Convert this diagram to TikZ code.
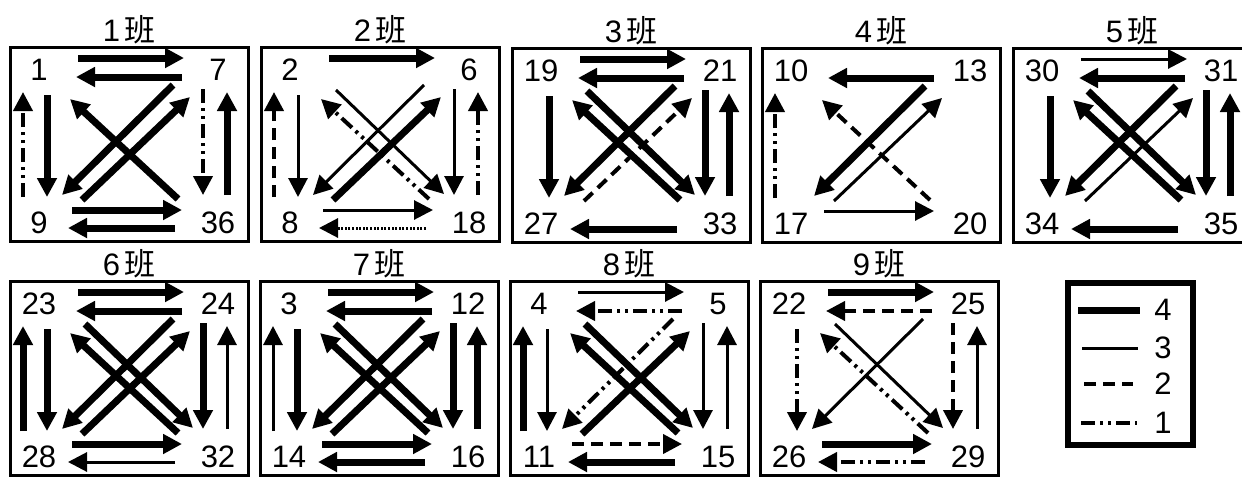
\documentclass[tikz,border=0pt]{standalone}
\usepackage{fontspec}
\setmainfont{Liberation Sans}
\newfontfamily\cjk{Noto Sans CJK SC}
\usetikzlibrary{arrows.meta}

\newcommand{\classpanel}[8]{%
  \begin{scope}[shift={(#2,#3)}]
    \draw[frame] (0,0) rectangle (238,194);
    \node[title] (#1-t) at (119,-17) {#4\hspace{2pt}{\cjk 班}};
    \node[num] (#1-a) at (29,23) {#5};
    \node[num] (#1-b) at (208,23) {#6};
    \node[num] (#1-c) at (29,176) {#7};
    \node[num] (#1-d) at (208,176) {#8};
  \end{scope}
  \coordinate (#1-ab-s) at ([shift={(39,-12)}]#1-a);
  \coordinate (#1-ab-e) at ([shift={(-34,-12)}]#1-b);
  \coordinate (#1-ba-s) at ([shift={(-36,7)}]#1-b);
  \coordinate (#1-ba-e) at ([shift={(37,7)}]#1-a);
  \coordinate (#1-cd-s) at ([shift={(33,-13)}]#1-c);
  \coordinate (#1-cd-e) at ([shift={(-36,-13)}]#1-d);
  \coordinate (#1-dc-s) at ([shift={(-43,5)}]#1-d);
  \coordinate (#1-dc-e) at ([shift={(29,5)}]#1-c);
  \coordinate (#1-ac-s) at ([shift={(8,25)}]#1-a);
  \coordinate (#1-ac-e) at ([shift={(8,-26)}]#1-c);
  \coordinate (#1-ca-s) at ([shift={(-16,-26)}]#1-c);
  \coordinate (#1-ca-e) at ([shift={(-16,22)}]#1-a);
  \coordinate (#1-bd-s) at ([shift={(-15,19)}]#1-b);
  \coordinate (#1-bd-e) at ([shift={(-15,-28)}]#1-d);
  \coordinate (#1-db-s) at ([shift={(9,-28)}]#1-d);
  \coordinate (#1-db-e) at ([shift={(9,22)}]#1-b);
  \coordinate (#1-ad-s) at ([shift={(46,20)}]#1-a);
  \coordinate (#1-ad-e) at ([shift={(-25,-29)}]#1-d);
  \coordinate (#1-da-s) at ([shift={(-40,-24)}]#1-d);
  \coordinate (#1-da-e) at ([shift={(31,29)}]#1-a);
  \coordinate (#1-bc-s) at ([shift={(-45,15)}]#1-b);
  \coordinate (#1-bc-e) at ([shift={(23,-28)}]#1-c);
  \coordinate (#1-cb-s) at ([shift={(43,-23)}]#1-c);
  \coordinate (#1-cb-e) at ([shift={(-28,27)}]#1-b);
}

\begin{document}
\begin{tikzpicture}[
  x=0.5pt, y=-0.5pt,
  frame/.style={line width=1.5pt},
  keyframe/.style={line width=3pt},
  title/.style={font=\fontsize{15.5}{18}\selectfont, inner sep=0pt},
  num/.style={font=\fontsize{15.5}{18}\selectfont, inner sep=0pt},
  arr/.style={-{Triangle[length=9.5pt, width=9.5pt]}},
  l4/.style={line width=3.5pt},
  l3/.style={line width=1.5pt},
  l2/.style={line width=2pt, dash pattern=on 6pt off 3.5pt},
  l1/.style={line width=2pt, dash pattern=on 7pt off 2.5pt on 1.5pt off 2.5pt on 1.5pt off 2.5pt},
  ldot/.style={line width=1.5pt, dash pattern=on 1pt off 0.8pt}]

\useasboundingbox (0,0) rectangle (1242,477);

\classpanel{p1}{10}{47}{1}{1}{7}{9}{36}
\foreach \e/\w in {ab/l4,ba/l4,cd/l4,dc/l4,ca/l1,ac/l4,bd/l1,db/l4,da/l4,bc/l4,cb/l4}
  \draw[arr,\w] (p1-\e-s) -- (p1-\e-e);

\classpanel{p2}{261}{47}{2}{2}{6}{8}{18}
\foreach \e/\w in {ab/l4,cd/l3,dc/ldot,ca/l2,ac/l3,bd/l3,db/l1,ad/l3,da/l1,bc/l3,cb/l4}
  \draw[arr,\w] (p2-\e-s) -- (p2-\e-e);

\classpanel{p3}{512}{48}{3}{19}{21}{27}{33}
\foreach \e/\w in {ab/l4,ba/l4,dc/l4,ac/l4,bd/l4,db/l4,ad/l4,da/l4,bc/l4,cb/l2}
  \draw[arr,\w] (p3-\e-s) -- (p3-\e-e);

\classpanel{p4}{762}{48}{4}{10}{13}{17}{20}
\foreach \e/\w in {ba/l4,ca/l1,cd/l3,bc/l4,cb/l3,da/l2}
  \draw[arr,\w] (p4-\e-s) -- (p4-\e-e);

\classpanel{p5}{1013}{48}{5}{30}{31}{34}{35}
\foreach \e/\w in {ab/l3,ba/l4,dc/l4,ac/l4,bd/l4,db/l4,ad/l4,da/l4,bc/l4,cb/l3}
  \draw[arr,\w] (p5-\e-s) -- (p5-\e-e);

\classpanel{p6}{10}{281}{6}{23}{24}{28}{32}
\foreach \e/\w in {ab/l4,ba/l4,cd/l4,dc/l3,ca/l4,ac/l4,bd/l4,db/l3,ad/l4,da/l4,bc/l4,cb/l4}
  \draw[arr,\w] (p6-\e-s) -- (p6-\e-e);

\classpanel{p7}{260}{281}{7}{3}{12}{14}{16}
\foreach \e/\w in {ab/l4,ba/l4,cd/l4,dc/l4,ca/l3,ac/l4,bd/l4,db/l4,ad/l4,da/l4,bc/l4,cb/l4}
  \draw[arr,\w] (p7-\e-s) -- (p7-\e-e);

\classpanel{p8}{510}{281}{8}{4}{5}{11}{15}
\foreach \e/\w in {ab/l3,ba/l1,cd/l2,dc/l4,ca/l4,ac/l3,bd/l3,db/l3,ad/l4,da/l4,bc/l1,cb/l4}
  \draw[arr,\w] (p8-\e-s) -- (p8-\e-e);

\classpanel{p9}{760}{281}{9}{22}{25}{26}{29}
\foreach \e/\w in {ab/l4,ba/l2,cd/l4,dc/l1,ac/l1,bd/l2,db/l3,ad/l3,da/l1,bc/l3}
  \draw[arr,\w] (p9-\e-s) -- (p9-\e-e);

\draw[keyframe] (1068,283) rectangle (1193,445);
\node[num] (k4) at (1163,310) {4};
\node[num] (k3) at (1163,348) {3};
\node[num] (k2) at (1163,384) {2};
\node[num] (k1) at (1163,423) {1};
\draw[l4] ([shift={(-85,0)}]k4.center) -- ([shift={(-23,0)}]k4.center);
\draw[l3] ([shift={(-81,0)}]k3.center) -- ([shift={(-25,0)}]k3.center);
\draw[l2] ([shift={(-79,0)}]k2.center) -- ([shift={(-30,0)}]k2.center);
\draw[l1] ([shift={(-82,0)}]k1.center) -- ([shift={(-26,0)}]k1.center);
\end{tikzpicture}
\end{document}
